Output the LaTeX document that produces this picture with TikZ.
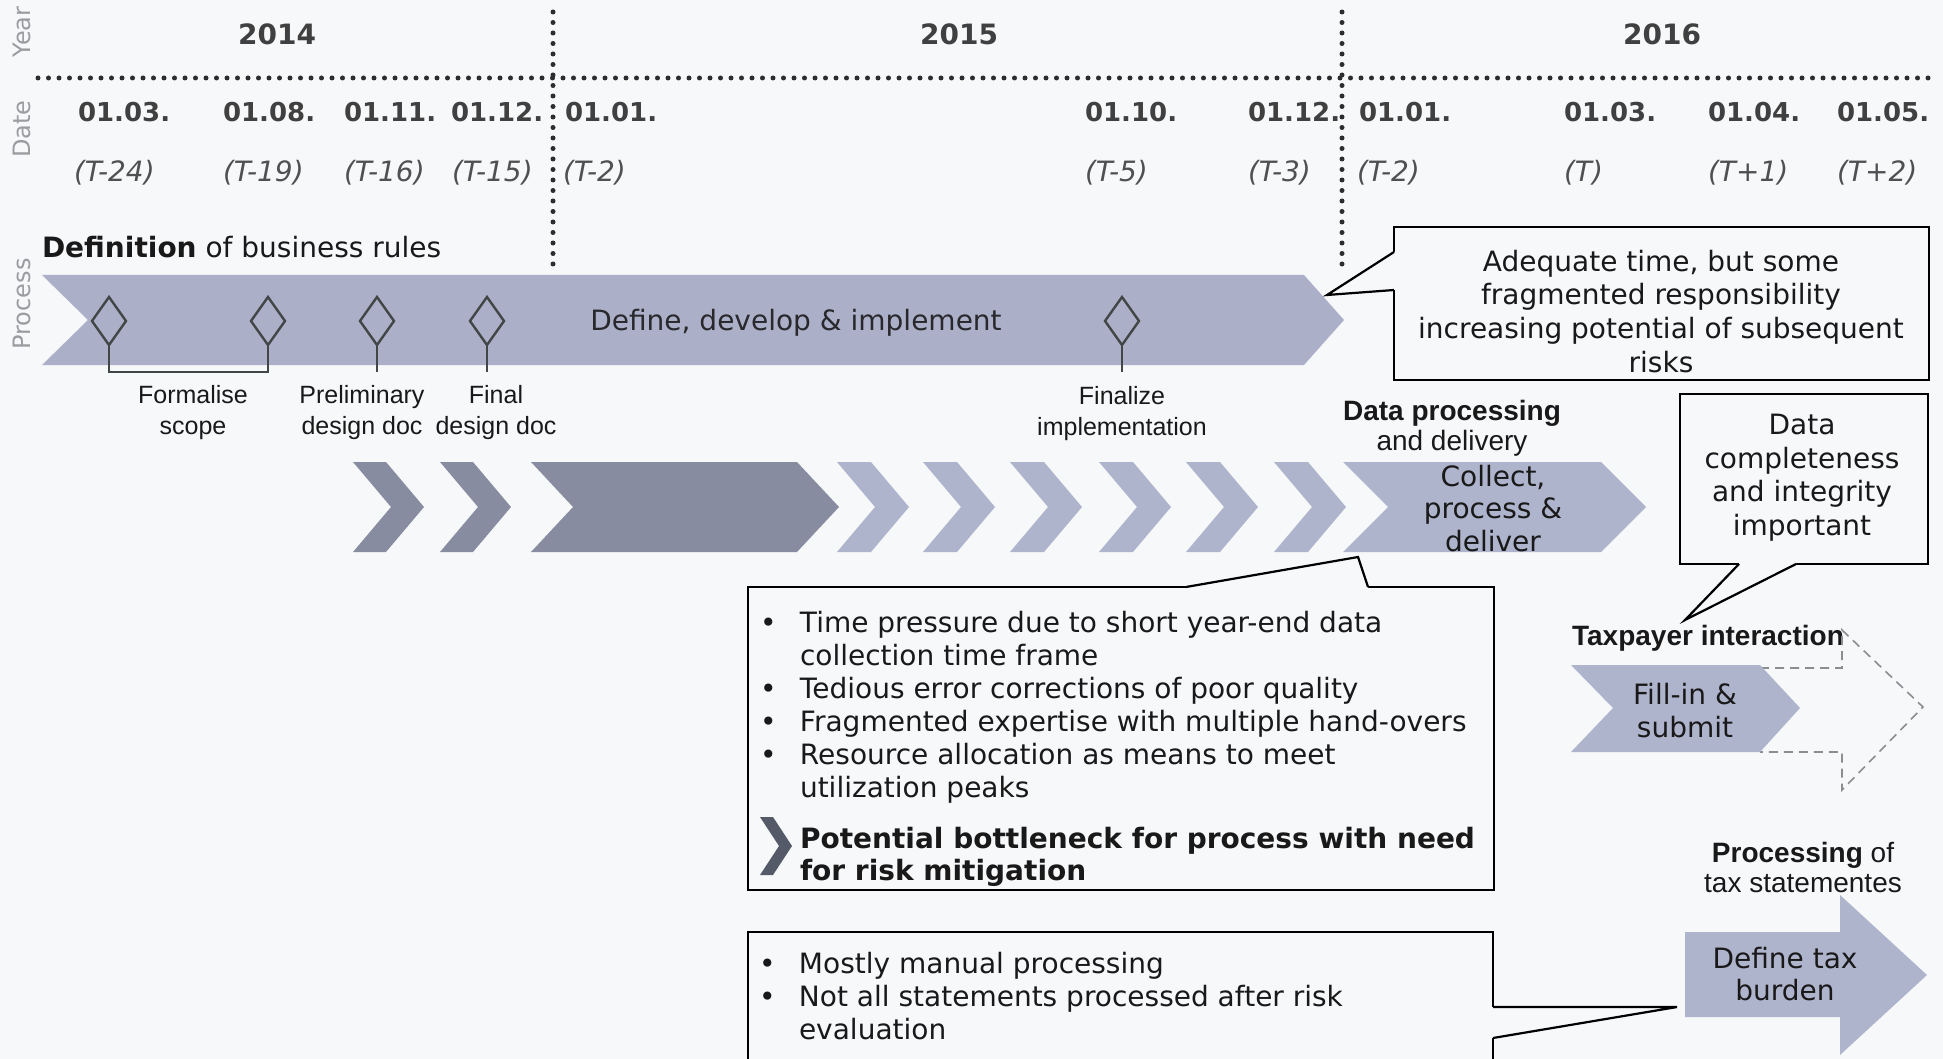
\documentclass[tikz,border=0pt]{standalone}
\usepackage{fontspec}
\setmainfont{DejaVu Sans}
\newfontfamily\arialf{Liberation Sans}
\usetikzlibrary{shapes.geometric,calc}
\definecolor{bgc}{RGB}{247,248,250}
\definecolor{bandc}{RGB}{171,176,200}
\definecolor{lightc}{RGB}{175,180,205}
\definecolor{darkc}{RGB}{136,140,160}
\definecolor{dotc}{RGB}{45,45,45}
\definecolor{datec}{RGB}{64,64,64}
\definecolor{tc}{RGB}{80,80,80}
\definecolor{sidec}{RGB}{155,155,160}
\definecolor{txtc}{RGB}{25,25,25}
\definecolor{diac}{RGB}{65,70,70}
\definecolor{dashc}{RGB}{140,140,145}
\definecolor{iconc}{RGB}{85,90,105}
\newcommand\mybul{\makebox[40pt][l]{\textbullet}}
\newcommand\mybulind{\hspace*{40pt}}
\newcommand\chevshape[4]{\fill[#4] (#1,462) -- ({#1+#2-#3},462) -- ({#1+#2},507) -- ({#1+#2-#3},552) -- (#1,552) -- ({#1+#3},507) -- cycle;}
\begin{document}
\begin{tikzpicture}[x=1pt,y=-1pt,
  every node/.style={inner sep=0pt, outer sep=0pt, text=txtc},
  yearlbl/.style={font=\bfseries\fontsize{28}{30}\selectfont, text=datec, anchor=base},
  datelbl/.style={font=\bfseries\fontsize{26}{28}\selectfont, text=datec, anchor=base west},
  tlbl/.style={font=\itshape\fontsize{28}{30}\selectfont, text=tc, anchor=base west},
  sidelbl/.style={font=\fontsize{24}{26}\selectfont, text=sidec, rotate=90},
  dotline/.style={draw=dotc, line width=5pt, line cap=round, dash pattern=on 0pt off 10.5pt},
  mile/.style={diamond, draw=diac, line width=2.4pt, minimum width=34pt, minimum height=48pt, aspect=0.7},
  stem/.style={draw=diac, line width=1.8pt},
  mlabel/.style={font=\arialf\fontsize{25}{31.5}\selectfont, align=center, anchor=north},
  hdr/.style={font=\arialf\fontsize{28}{30.5}\selectfont, align=center},
  boxtxt/.style={font=\fontsize{28}{33.6}\selectfont, align=center, anchor=north},
  listtxt/.style={font=\fontsize{28}{33}\selectfont, align=left, anchor=north west},
  callbox/.style={draw=black, line width=2.2pt, fill=bgc, anchor=north west},
  callwedge/.style={draw=black, line width=2.2pt, line join=miter},
  dasharrow/.style={draw=dashc, line width=1.6pt, dash pattern=on 9pt off 6pt}
]
\useasboundingbox (0,0) rectangle (1943,1059);
\clip (0,0) rectangle (1943,1059);
\fill[bgc] (0,0) rectangle (1943,1059);

% side labels
\node[sidelbl] (sy) at (22,32) {Year};
\node[sidelbl] (sd) at (22,129) {Date};
\node[sidelbl] (sp) at (22,304) {Process};

% grid
\draw[dotline] (38,78) -- (1934,78);
\draw[dotline] (553,12) -- (553,273);
\draw[dotline] (1342,12) -- (1342,273);

% years
\node[yearlbl] (y14) at (277,45) {2014};
\node[yearlbl] (y15) at (959,45) {2015};
\node[yearlbl] (y16) at (1662,45) {2016};

% dates
\foreach \x/\d/\u/\t [count=\i] in {78/01.03./74/(T-24), 223/01.08./223/(T-19), 344/01.11./344/(T-16), 451/01.12./452/(T-15), 565/01.01./563/(T-2), 1085/01.10./1085/(T-5), 1248/01.12./1248/(T-3), 1359/01.01./1357/(T-2), 1564/01.03./1564/(T), 1708/01.04./1708/(T+1), 1837/01.05./1837/(T+2)} {
  \node[datelbl] (d\i) at (\x,122) {\d};
  \node[tlbl] (t\i) at (\u,182) {\t};
}

% definition of business rules
\node[anchor=base west, font=\fontsize{28}{30}\selectfont] (defn) at (42,258) {\textbf{Definition} of business rules};
\fill[bandc] (42,275) -- (1304,275) -- (1344,320) -- (1304,365) -- (42,365) -- (88,320) -- cycle;
\node[anchor=base, font=\fontsize{28}{30}\selectfont, text={rgb,255:red,40;green,40;blue,45}] (band) at (796,330) {Define, develop \& implement};

\node[mile] (m1) at (109,321) {};
\node[mile] (m2) at (268,321) {};
\node[mile] (m3) at (377,321) {};
\node[mile] (m4) at (487,321) {};
\node[mile] (m5) at (1122,321) {};
\draw[stem] (m1.south) -- ++(0,27) -| (m2.south);
\draw[stem] (m3.south) -- ++(0,27);
\draw[stem] (m4.south) -- ++(0,27);
\draw[stem] (m5.south) -- ++(0,27);

\node[mlabel] (l1) at (193,385) {Formalise\\scope};
\node[mlabel] (l2) at (362,385) {Preliminary\\design doc};
\node[mlabel] (l3) at (496,385) {Final\\design doc};
\node[mlabel] (l5) at (1122,386) {Finalize\\implementation};

% callout 1
\node[callbox, minimum width=535pt, minimum height=153pt] (cb1) at (1394,227) {};
\coordinate (p1) at (1327,295);
\fill[bgc] ($(cb1.north west)+(3,25)$) -- ($(cb1.north west)+(0,25)$) -- (p1) -- ($(cb1.north west)+(0,63)$) -- ($(cb1.north west)+(3,63)$) -- cycle;
\draw[callwedge] ($(cb1.north west)+(0,25)$) -- (p1) -- ($(cb1.north west)+(0,63)$);
\node[boxtxt] (ct1) at (1661,250) {Adequate time, but some\\fragmented responsibility\\increasing potential of subsequent\\risks};

% chevron row
\chevshape{353}{71}{38}{darkc}
\chevshape{440}{71}{38}{darkc}
\chevshape{531}{308}{42}{darkc}
\foreach \x in {837,923,1010,1099,1186,1274} {\chevshape{\x}{72}{38}{lightc}}
\chevshape{1343}{303}{45}{lightc}
\node[boxtxt, font=\fontsize{28}{32.5}\selectfont] (collect) at (1493,465) {Collect,\\process \&\\deliver};
\node[hdr, anchor=north] (dp) at (1452,400) {\textbf{Data processing}\\and delivery};

% callout 2
\node[callbox, minimum width=248pt, minimum height=170pt] (cb2) at (1680,394) {};
\coordinate (p2) at (1685,620);
\fill[bgc] ($(cb2.south west)+(59,-3)$) -- ($(cb2.south west)+(59,0)$) -- (p2) -- ($(cb2.south west)+(116,0)$) -- ($(cb2.south west)+(116,-3)$) -- cycle;
\draw[callwedge] ($(cb2.south west)+(59,0)$) -- (p2) -- ($(cb2.south west)+(116,0)$);
\node[boxtxt] (ct2) at (1802,414) {Data\\completeness\\and integrity\\important};

% middle callout
\node[callbox, minimum width=746pt, minimum height=303pt] (cb3) at (748,587) {};
\coordinate (p3) at (1358,557);
\fill[bgc] ($(cb3.north west)+(438,3)$) -- ($(cb3.north west)+(438,0)$) -- (p3) -- ($(cb3.north west)+(620,0)$) -- ($(cb3.north west)+(620,3)$) -- cycle;
\draw[callwedge] ($(cb3.north west)+(438,0)$) -- (p3) -- ($(cb3.north west)+(620,0)$);
\node[listtxt] (risk1) at (760,611) {\mybul Time pressure due to short year-end data\\\mybulind collection time frame\\\mybul Tedious error corrections of poor quality\\\mybul Fragmented expertise with multiple hand-overs\\\mybul Resource allocation as means to meet\\\mybulind utilization peaks};
\fill[iconc] (760,817) -- (773,817) -- (792,846) -- (773,875) -- (760,875) -- (779,846) -- cycle;
\node[listtxt, font=\bfseries\fontsize{28}{32}\selectfont] (risk2) at (800,827) {Potential bottleneck for process with need\\for risk mitigation};

% bottom callout
\node[callbox, minimum width=745pt, minimum height=200pt] (cb4) at (748,932) {};
\coordinate (p4) at (1677,1007);
\fill[bgc] ($(cb4.north east)+(-3,75)$) -- ($(cb4.north east)+(0,75)$) -- (p4) -- ($(cb4.north east)+(0,106)$) -- ($(cb4.north east)+(-3,106)$) -- cycle;
\draw[callwedge] ($(cb4.north east)+(0,75)$) -- (p4) -- ($(cb4.north east)+(0,106)$);
\node[listtxt] (risk3) at (759,952) {\mybul Mostly manual processing\\\mybul Not all statements processed after risk\\\mybulind evaluation};

% taxpayer interaction
\node[hdr, anchor=base] (tpi) at (1708,645) {\textbf{Taxpayer interaction}};
\draw[dasharrow] (1760,668) -- (1842,668) -- (1842,630) -- (1923,707) -- (1842,790) -- (1842,752) -- (1760,752);
\fill[lightc] (1571,665) -- (1760,665) -- (1800,708) -- (1760,752) -- (1571,752) -- (1613,708) -- cycle;
\node[boxtxt, font=\fontsize{28}{33}\selectfont] (fill) at (1685,683) {Fill-in \&\\submit};

% processing
\node[hdr, anchor=north] (proc) at (1803,842) {\textbf{Processing} of\\tax statementes};
\fill[lightc] (1685,932) -- (1840,932) -- (1840,895) -- (1927,975) -- (1840,1055) -- (1840,1017) -- (1685,1017) -- cycle;
\node[boxtxt, font=\fontsize{28}{32}\selectfont] (dtax) at (1785,947) {Define tax\\burden};
\end{tikzpicture}
\end{document}
